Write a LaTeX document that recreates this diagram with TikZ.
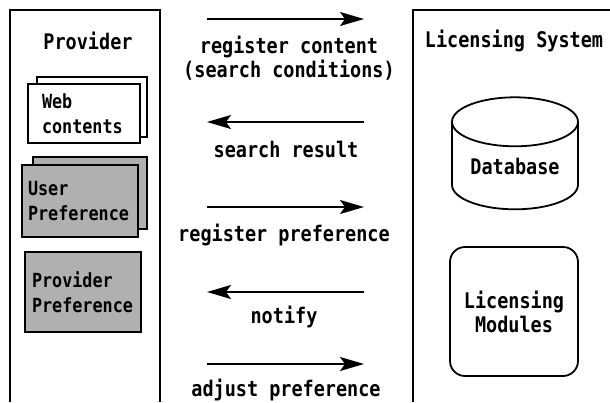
\documentclass[tikz,border=0pt]{standalone}
\usepackage{fontspec}
\setmonofont[FakeStretch=0.86]{DejaVu Sans Mono}
\usetikzlibrary{positioning,shapes.geometric,arrows.meta}

\begin{document}
\begin{tikzpicture}[x=1pt, y=-1pt,
  every node/.style = {font=\ttfamily\bfseries\fontsize{21.5}{24}\selectfont, inner sep=0pt, align=center},
  small text/.style = {font=\ttfamily\bfseries\fontsize{19.5}{25}\selectfont, align=left},
  panel/.style = {line width=1.8pt},
  paper/.style = {draw, line width=1.8pt, fill=white},
  shaded/.style = {paper, fill=gray!62},
  flow/.style = {line width=1.8pt, -{Stealth[length=24pt, width=14pt, inset=5pt]}}
    ]
  \useasboundingbox (0,0) rectangle (610,402);

  % the two sides
  \draw[panel] (10,402) -- (10,10) -- (160,10) -- (160,402);
  \draw[panel] (413,402) -- (413,10) -- (612,10);
  \node (provider) at (88,41) {Provider};
  \node (licsys) at (514,41) {Licensing System};

  % provider side
  \node[paper, minimum width=110, minimum height=60] (webback) at (92,107) {};
  \node[paper, small text, inner xsep=14pt, text width=84pt, minimum height=59] (web) at (84,113.5) {Web\\contents};
  \node[shaded, minimum width=114, minimum height=72] (userback) at (90,193) {};
  \node[shaded, small text, inner xsep=6pt, text width=104pt, minimum height=72] (userpref) at (80,201) {User\\Preference};
  \node[shaded, small text, inner xsep=7pt, text width=102pt, minimum height=80] (provpref) at (83,292) {Provider\\Preference};

  % licensing side
  \node[draw, line width=1.8pt, cylinder, shape border rotate=90, aspect=0.55,
        minimum width=126, minimum height=112] (db) at (515,166) {Database};
  \node[draw, line width=1.8pt, rounded corners=15pt, minimum width=128, minimum height=129] (modules) at (514,311.5) {Licensing\\Modules};

  % messages
  \coordinate (m1a) at (207,19);  \coordinate (m1b) at (364,19);
  \coordinate (m2a) at (207,122); \coordinate (m2b) at (364,122);
  \coordinate (m3a) at (207,207); \coordinate (m3b) at (364,207);
  \coordinate (m4a) at (207,292); \coordinate (m4b) at (364,292);
  \coordinate (m5a) at (207,364); \coordinate (m5b) at (364,364);
  \draw[flow] (m1a) -- (m1b);
  \draw[flow] (m2b) -- (m2a);
  \draw[flow] (m3a) -- (m3b);
  \draw[flow] (m4b) -- (m4a);
  \draw[flow] (m5a) -- (m5b);
  \node (l1) at (289,58) {register content\\(search conditions)};
  \node (l2) at (286,149) {search result};
  \node (l3) at (284,235) {register preference};
  \node (l4) at (284,317) {notify};
  \node (l5) at (286,390) {adjust preference};
\end{tikzpicture}
\end{document}
